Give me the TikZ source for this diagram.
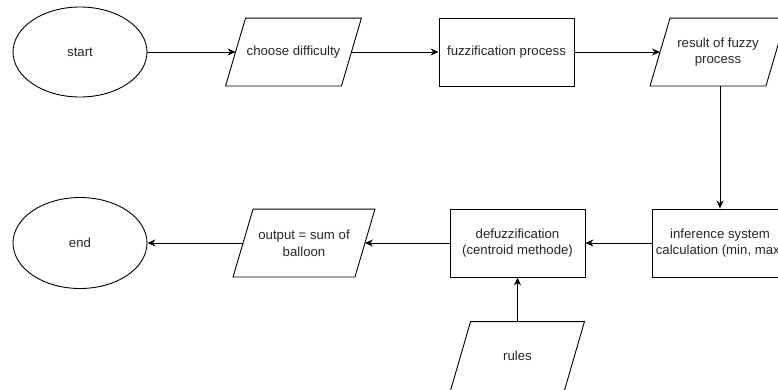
\documentclass[tikz,border=0pt]{standalone}
\usepackage{fontspec}
\setmainfont{Liberation Sans}
\usetikzlibrary{shapes.geometric,arrows.meta}

\tikzset{
  startstop/.style={ellipse,draw,minimum width=134pt,minimum height=90pt},
  process/.style={rectangle,draw,minimum width=135pt,minimum height=68pt,align=center},
  io/.style={rectangle,minimum width=115pt,minimum height=67pt,align=center,inner sep=0pt},
  arrow/.style={-{Stealth[length=8pt,width=7pt]}},
  every node/.style={font=\fontsize{13.2}{16.7}\selectfont,text=black!85}
}
% parallelogram drawn round an invisible box
\newcommand{\slantbox}[1]{%
  \draw ([xshift=10pt]#1.north west) -- ([xshift=10pt]#1.north east)
     -- ([xshift=-10pt]#1.south east) -- ([xshift=-10pt]#1.south west) -- cycle;}

\begin{document}
\begin{tikzpicture}[x=1pt,y=-1pt,line width=0.9pt]
   \useasboundingbox (0,0) rectangle (778,389);
   \node[startstop] (start) at (80,52) {start};
   \node[io] (choose) at (293.5,52) {choose difficulty};
   \node[process] (fuzz) at (506.5,52) {fuzzification process};
   \node[io] (result) at (718,52) {result of fuzzy\\process};
   \node[process,minimum width=136pt] (infer) at (720,243) {inference system\\calculation (min, max)};
   \node[process] (defuzz) at (517.5,243) {defuzzification\\(centroid methode)};
   \node[io,minimum width=121pt] (output) at (304,243) {output = sum of\\balloon};
   \node[startstop,minimum height=91pt] (end) at (80,243) {end};
   \node[io,minimum width=113pt,minimum height=68pt] (rules) at (517.5,356) {rules};

   \foreach \n in {choose,result,output,rules}
      {\slantbox{\n}}

   \draw[arrow] (start) -- (choose);
   \draw[arrow] (choose) -- (fuzz);
   \draw[arrow] (fuzz) -- (result);
   \draw[arrow] (result.south -| infer.north) -- (infer);
   \draw[arrow] (infer) -- (defuzz);
   \draw[arrow] (rules) -- (defuzz);
   \draw[arrow] (defuzz) -- (output);
   \draw[arrow] (output) -- (end);
\end{tikzpicture}
\end{document}
